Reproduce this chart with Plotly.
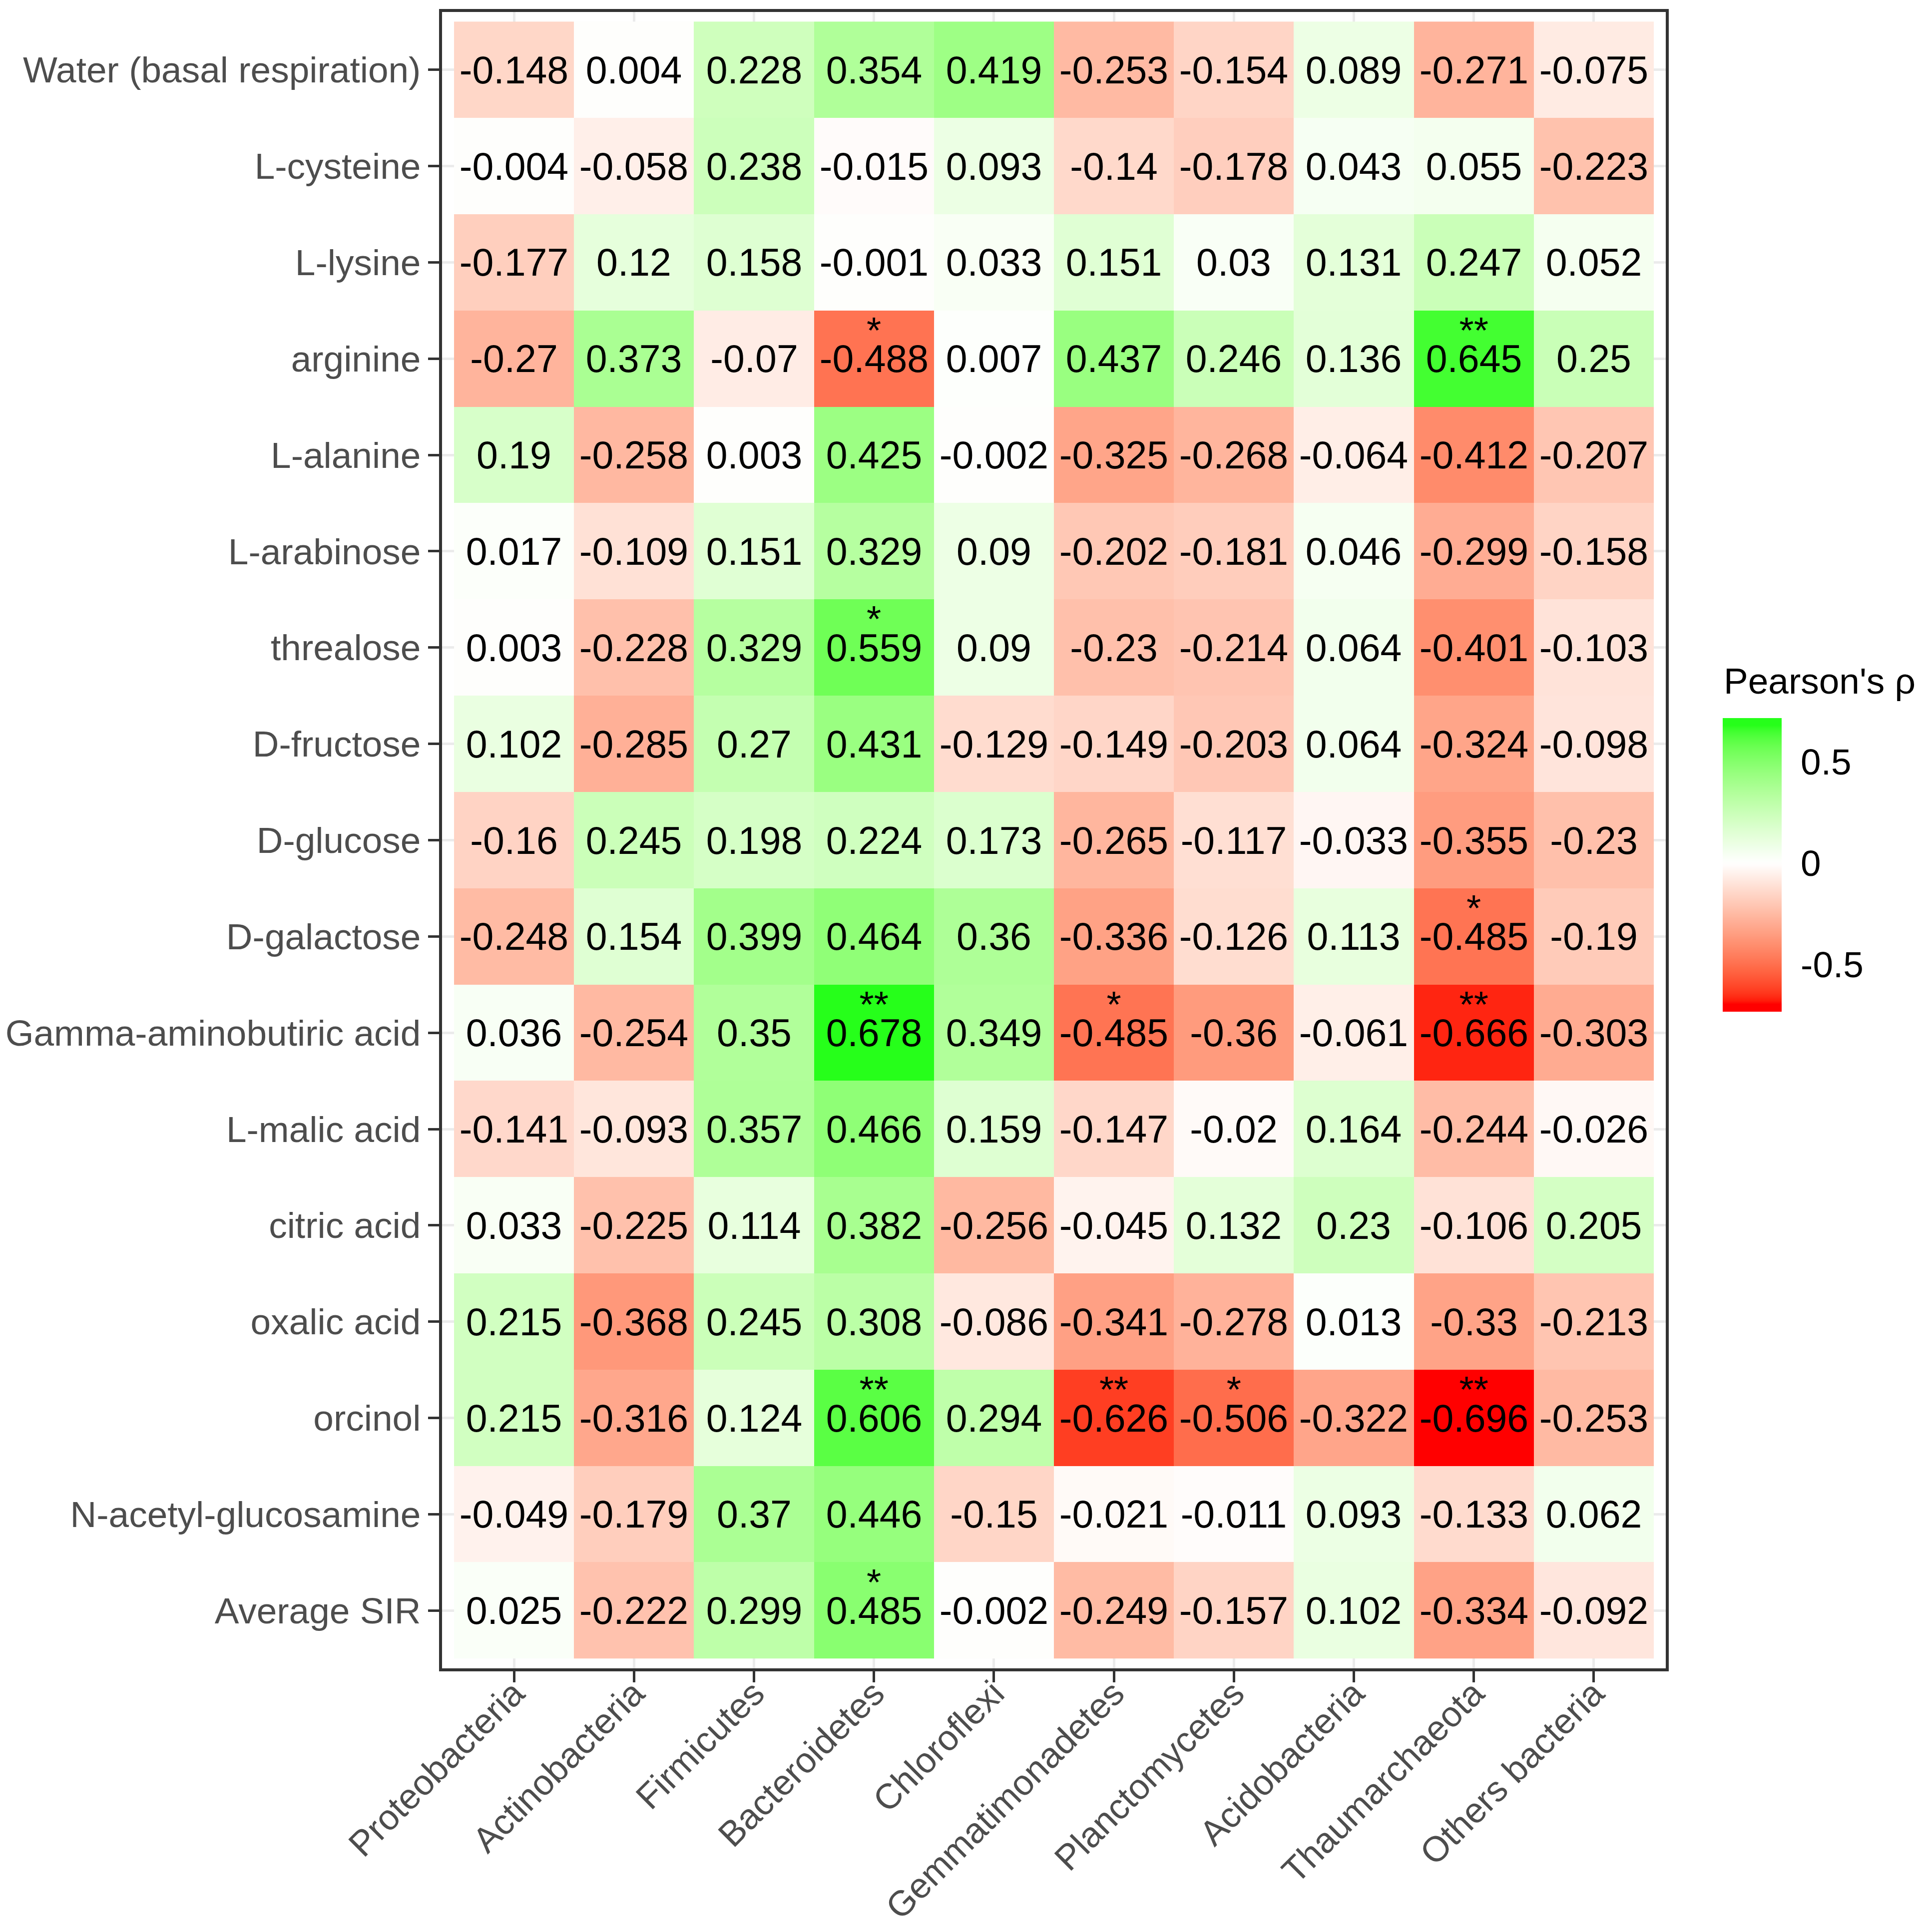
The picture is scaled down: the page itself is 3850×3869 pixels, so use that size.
import plotly.graph_objects as go

# Phyla (columns) and substrates (rows)
phyla = [
    "Proteobacteria", "Actinobacteria", "Firmicutes", "Bacteroidetes", "Chloroflexi",
    "Gemmatimonadetes", "Planctomycetes", "Acidobacteria", "Thaumarchaeota", "Others bacteria",
]
substrates = [
    "Water (basal respiration)", "L-cysteine", "L-lysine", "arginine", "L-alanine",
    "L-arabinose", "threalose", "D-fructose", "D-glucose", "D-galactose",
    "Gamma-aminobutiric acid", "L-malic acid", "citric acid", "oxalic acid",
    "orcinol", "N-acetyl-glucosamine", "Average SIR",
]

# Pearson's rho, one row per substrate
rho = [
    [-0.148, 0.004, 0.228, 0.354, 0.419, -0.253, -0.154, 0.089, -0.271, -0.075],
    [-0.004, -0.058, 0.238, -0.015, 0.093, -0.14, -0.178, 0.043, 0.055, -0.223],
    [-0.177, 0.12, 0.158, -0.001, 0.033, 0.151, 0.03, 0.131, 0.247, 0.052],
    [-0.27, 0.373, -0.07, -0.488, 0.007, 0.437, 0.246, 0.136, 0.645, 0.25],
    [0.19, -0.258, 0.003, 0.425, -0.002, -0.325, -0.268, -0.064, -0.412, -0.207],
    [0.017, -0.109, 0.151, 0.329, 0.09, -0.202, -0.181, 0.046, -0.299, -0.158],
    [0.003, -0.228, 0.329, 0.559, 0.09, -0.23, -0.214, 0.064, -0.401, -0.103],
    [0.102, -0.285, 0.27, 0.431, -0.129, -0.149, -0.203, 0.064, -0.324, -0.098],
    [-0.16, 0.245, 0.198, 0.224, 0.173, -0.265, -0.117, -0.033, -0.355, -0.23],
    [-0.248, 0.154, 0.399, 0.464, 0.36, -0.336, -0.126, 0.113, -0.485, -0.19],
    [0.036, -0.254, 0.35, 0.678, 0.349, -0.485, -0.36, -0.061, -0.666, -0.303],
    [-0.141, -0.093, 0.357, 0.466, 0.159, -0.147, -0.02, 0.164, -0.244, -0.026],
    [0.033, -0.225, 0.114, 0.382, -0.256, -0.045, 0.132, 0.23, -0.106, 0.205],
    [0.215, -0.368, 0.245, 0.308, -0.086, -0.341, -0.278, 0.013, -0.33, -0.213],
    [0.215, -0.316, 0.124, 0.606, 0.294, -0.626, -0.506, -0.322, -0.696, -0.253],
    [-0.049, -0.179, 0.37, 0.446, -0.15, -0.021, -0.011, 0.093, -0.133, 0.062],
    [0.025, -0.222, 0.299, 0.485, -0.002, -0.249, -0.157, 0.102, -0.334, -0.092],
]

# significance marks, same layout as rho
signif = [
    ["", "", "", "", "", "", "", "", "", ""],
    ["", "", "", "", "", "", "", "", "", ""],
    ["", "", "", "", "", "", "", "", "", ""],
    ["", "", "", "*", "", "", "", "", "**", ""],
    ["", "", "", "", "", "", "", "", "", ""],
    ["", "", "", "", "", "", "", "", "", ""],
    ["", "", "", "*", "", "", "", "", "", ""],
    ["", "", "", "", "", "", "", "", "", ""],
    ["", "", "", "", "", "", "", "", "", ""],
    ["", "", "", "", "", "", "", "", "*", ""],
    ["", "", "", "**", "", "*", "", "", "**", ""],
    ["", "", "", "", "", "", "", "", "", ""],
    ["", "", "", "", "", "", "", "", "", ""],
    ["", "", "", "", "", "", "", "", "", ""],
    ["", "", "", "**", "", "**", "*", "", "**", ""],
    ["", "", "", "", "", "", "", "", "", ""],
    ["", "", "", "*", "", "", "", "", "", ""],
]


# ggplot-like gradient2 (red - white - green, interpolated in Lab)
def hex_to_lab(h):
    rgb = [int(h[i:i + 2], 16) / 255 for i in (1, 3, 5)]
    r, g, b = [c / 12.92 if c <= 0.04045 else ((c + 0.055) / 1.055) ** 2.4 for c in rgb]
    X = (0.4124564 * r + 0.3575761 * g + 0.1804375 * b) / 0.95047
    Y = 0.2126729 * r + 0.7151522 * g + 0.0721750 * b
    Z = (0.0193339 * r + 0.1191920 * g + 0.9503041 * b) / 1.08883
    f = lambda t: t ** (1 / 3) if t > 216 / 24389 else (24389 / 27 * t + 16) / 116
    return 116 * f(Y) - 16, 500 * (f(X) - f(Y)), 200 * (f(Y) - f(Z))


def lab_to_hex(L, a, b):
    fy = (L + 16) / 116
    fx, fz = fy + a / 500, fy - b / 200
    finv = lambda t: t ** 3 if t ** 3 > 216 / 24389 else (116 * t - 16) / (24389 / 27)
    X, Y, Z = 0.95047 * finv(fx), finv(fy), 1.08883 * finv(fz)
    rgb = [3.2404542 * X - 1.5371385 * Y - 0.4985314 * Z,
           -0.9692660 * X + 1.8760108 * Y + 0.0415560 * Z,
           0.0556434 * X - 0.2040259 * Y + 1.0572252 * Z]
    out = []
    for c in rgb:
        c = 12.92 * c if c <= 0.0031308 else 1.055 * c ** (1 / 2.4) - 0.055
        out.append(round(min(max(c, 0), 1) * 255))
    return "#%02x%02x%02x" % tuple(out)


low, mid, high = hex_to_lab("#FF0000"), hex_to_lab("#FFFFFF"), hex_to_lab("#00FF00")
flat = [v for row in rho for v in row]
dmin, dmax = min(flat), max(flat)
span = max(abs(dmin), abs(dmax))


def fill(v):
    v = min(max(v, dmin), dmax)
    t = v / span / 2 + 0.5
    if t < 0.5:
        a, b, u = low, mid, t / 0.5
    else:
        a, b, u = mid, high, (t - 0.5) / 0.5
    return lab_to_hex(*[a[i] + (b[i] - a[i]) * u for i in range(3)])


# old ggplot colourbar: 20 bins, limits sit at the centre of the end bins
nbin = 20
ext = (dmax - dmin) / (nbin - 1) / 2
zmin, zmax = dmin - ext, dmax + ext

n = 80
colorscale = []
for i in range(n + 1):
    v = zmin + (zmax - zmin) * i / n
    colorscale.append([i / n, fill(v)])

FONT = "Liberation Sans, Arial, sans-serif"

fig = go.Figure()
fig.add_trace(go.Heatmap(
    z=rho,
    x=list(range(len(phyla))),
    y=list(range(len(substrates))),
    text=[[f"{v:g}" for v in row] for row in rho],
    texttemplate="%{text}",
    textfont=dict(family=FONT, size=77, color="black"),
    colorscale=colorscale,
    zmin=zmin,
    zmax=zmax,
    hoverinfo="skip",
    colorbar=dict(
        tickvals=[-0.5, 0, 0.5],
        ticktext=["-0.5", "0", "0.5"],
        ticks="outside",
        ticklen=24,
        tickwidth=1,
        tickcolor="white",
        tickfont=dict(family=FONT, size=73, color="black"),
        thickness=118,
        len=588,
        lenmode="pixels",
        x=1.0465,
        xanchor="left",
        y=0.485,
        yanchor="middle",
        xpad=0,
        ypad=0,
        outlinewidth=0,
    ),
))

# significance stars above the values
sx, sy, st = [], [], []
for i, row in enumerate(signif):
    for j, s in enumerate(row):
        if s:
            sx.append(j)
            sy.append(i - 0.26)
            st.append(s)
fig.add_trace(go.Scatter(
    x=sx, y=sy, text=st, mode="text",
    textfont=dict(family=FONT, size=75, color="black"),
    hoverinfo="skip", showlegend=False,
))

axis_style = dict(
    showline=True, mirror=True, linecolor="#333333", linewidth=6,
    ticks="outside", ticklen=22, tickwidth=5, tickcolor="#333333",
    showgrid=True, gridcolor="#EBEBEB", gridwidth=5, zeroline=False,
    tickfont=dict(family=FONT, size=73, color="#4D4D4D"),
    automargin=False,
)

fig.update_xaxes(
    tickvals=list(range(len(phyla))), ticktext=phyla, tickangle=-45,
    range=[-0.6, len(phyla) - 0.4], ticklabelstandoff=-48, **axis_style,
)
fig.update_xaxes(tickfont=dict(family=FONT, size=71, color="#4D4D4D"))
fig.update_yaxes(
    tickvals=list(range(len(substrates))), ticktext=substrates,
    range=[len(substrates) - 0.4, -0.6], **axis_style,
)

fig.add_annotation(
    text="Pearson's ρ", xref="paper", yref="paper",
    x=1.0465, y=0.5963, xanchor="left", yanchor="middle",
    showarrow=False, font=dict(family=FONT, size=73, color="black"),
)

fig.update_layout(
    width=3850,
    height=3869,
    margin=dict(l=877, r=523, t=16, b=536),
    plot_bgcolor="white",
    paper_bgcolor="white",
    showlegend=False,
    font=dict(family=FONT),
)

fig.write_html("out.html")
